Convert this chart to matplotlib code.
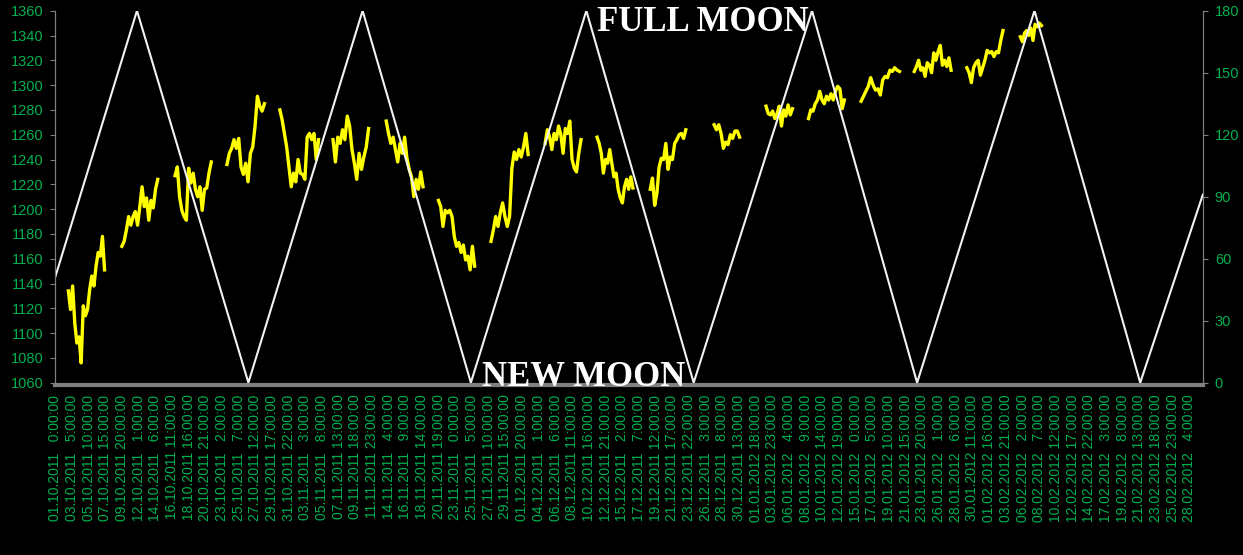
import numpy as np
import pandas as pd
import matplotlib
matplotlib.use('Agg')
import matplotlib.pyplot as plt

plt.rcParams['font.family'] = ['Liberation Sans', 'DejaVu Sans']

# x axis: one category per hour, counted from 01.10.2011 0:00
n_hours = 3648
label_step = 53
first_label = '2011-10-01 00:00'

# hourly S&P prices, one list per trading week (first hour, last hour, prices)
week_start = [42, 212, 381, 546, 714, 883, 1052, 1218, 1385, 1557,
              1722, 1891, 2094, 2259, 2394, 2561, 2730, 2897, 3067]
week_end = [157, 326, 496, 665, 837, 996, 1169, 1333, 1503, 1671,
            1836, 2004, 2175, 2343, 2508, 2683, 2847, 3012, 3134]
week_prices = [
    [1134, 1119, 1138, 1108, 1092, 1097, 1076, 1122, 1114, 1119, 1135, 1146, 1138, 1154, 1165, 1162, 1178, 1151],
    [1170, 1174, 1183, 1194, 1187, 1194, 1198, 1187, 1202, 1218, 1202, 1209, 1191, 1207, 1201, 1216, 1224],
    [1227, 1234, 1210, 1199, 1194, 1191, 1233, 1221, 1229, 1216, 1210, 1218, 1199, 1216, 1217, 1229, 1238],
    [1236, 1245, 1249, 1256, 1249, 1257, 1234, 1228, 1237, 1222, 1245, 1250, 1267, 1291, 1283, 1279, 1285],
    [1280, 1272, 1261, 1250, 1234, 1218, 1229, 1222, 1240, 1229, 1228, 1224, 1258, 1261, 1256, 1261, 1240, 1256],
    [1256, 1238, 1258, 1253, 1264, 1256, 1275, 1267, 1248, 1237, 1224, 1245, 1232, 1242, 1250, 1265],
    [1271, 1261, 1253, 1258, 1248, 1238, 1253, 1245, 1258, 1241, 1232, 1226, 1210, 1224, 1216, 1230, 1218],
    [1207, 1202, 1186, 1199, 1197, 1199, 1194, 1178, 1170, 1173, 1165, 1171, 1159, 1162, 1151, 1170, 1154],
    [1174, 1183, 1194, 1186, 1197, 1205, 1194, 1186, 1194, 1233, 1246, 1240, 1248, 1242, 1250, 1261, 1244],
    [1253, 1264, 1258, 1248, 1261, 1256, 1267, 1260, 1245, 1265, 1261, 1271, 1240, 1233, 1230, 1245, 1256],
    [1258, 1253, 1245, 1229, 1240, 1237, 1248, 1237, 1226, 1229, 1216, 1209, 1205, 1218, 1224, 1216, 1226, 1217],
    [1216, 1225, 1203, 1213, 1234, 1241, 1240, 1253, 1232, 1242, 1240, 1253, 1256, 1260, 1261, 1257, 1264],
    [1268, 1264, 1268, 1261, 1249, 1254, 1252, 1260, 1257, 1263, 1263, 1258],
    [1283, 1277, 1276, 1279, 1273, 1277, 1283, 1267, 1280, 1275, 1284, 1276, 1281],
    [1273, 1280, 1279, 1285, 1288, 1295, 1288, 1285, 1291, 1288, 1293, 1288, 1295, 1299, 1297, 1281, 1288],
    [1287, 1291, 1295, 1299, 1306, 1300, 1296, 1297, 1292, 1304, 1307, 1306, 1312, 1311, 1314, 1312, 1311],
    [1311, 1315, 1320, 1312, 1314, 1307, 1318, 1316, 1310, 1326, 1320, 1327, 1332, 1316, 1320, 1315, 1322, 1312],
    [1314, 1310, 1302, 1314, 1318, 1320, 1308, 1314, 1320, 1328, 1326, 1327, 1323, 1327, 1326, 1336, 1344],
    [1339, 1335, 1342, 1344, 1340, 1346, 1336, 1349, 1347, 1350, 1348],
]

# moon phase in degrees at the turning points (0 = new moon, 180 = full moon)
moon_hours = [0, 260, 614, 977, 1321, 1688, 2029, 2405, 2739, 3112, 3448, 3647]
moon_deg = [51, 180, 0, 180, 0, 180, 0, 180, 0, 180, 0, 91]

green = '#00B050'
grey = '#808080'

# weeks joined into one line, with a gap between weeks
px, py = [], []
for s, e, p in zip(week_start, week_end, week_prices):
    px.extend(np.linspace(s, e, len(p)))
    py.extend(p)
    px.append(np.nan)
    py.append(np.nan)

tick_times = pd.date_range(first_label, periods=(n_hours - 1) // label_step + 1,
                           freq=f'{label_step}h')
tick_labels = []
for t in tick_times:
    hh = str(t.hour) if t.hour > 9 else '  ' + str(t.hour)
    tick_labels.append(f'{t:%d.%m.%Y} {hh}:00:00')
tick_pos = np.arange(len(tick_times)) * label_step

fig = plt.figure(figsize=(12.43, 5.55), dpi=100, facecolor='black')
ax = fig.add_axes([55 / 1243, 1 - 382.7 / 555, 1148 / 1243, 372 / 555])
ax.set_facecolor('black')
ax2 = ax.twinx()

# spines first: moving a spine resets the tick labels
for a in (ax, ax2):
    a.spines['top'].set_visible(False)
    a.spines['bottom'].set_visible(False)
    for side in ('left', 'right'):
        a.spines[side].set_color(grey)
        a.spines[side].set_linewidth(0.8)
ax.spines['bottom'].set_visible(True)
ax.spines['bottom'].set_color(grey)
ax.spines['bottom'].set_linewidth(3)
ax.spines['bottom'].set_position(('outward', 1.5))

ax.plot(px, py, color='#FFFF00', lw=2.4)
ax2.plot(moon_hours, moon_deg, color='#F2F2F2', lw=1.5)

ax.set_xlim(-0.5, n_hours - 0.5)
ax.set_ylim(1060, 1360)
ax.set_yticks(np.arange(1060, 1361, 20))
ax2.set_ylim(0, 180)
ax2.set_yticks(np.arange(0, 181, 30))

ax.set_xticks(tick_pos)
ax.set_xticklabels(tick_labels, rotation=90, fontsize=10, color=green)
ax.tick_params(axis='x', length=0, pad=7)
ax.tick_params(axis='y', colors=grey, labelcolor=green, labelsize=10.5,
               length=3.5, width=0.8, pad=5)
ax2.tick_params(axis='y', colors=grey, labelcolor=green, labelsize=10.5,
                length=3.5, width=0.8, pad=5)

fig.text(597 / 1243, 1 - 31 / 555, 'FULL MOON', color='white', fontsize=25,
         fontweight='bold', family='Liberation Serif', va='baseline', ha='left')
fig.text(482 / 1243, 1 - 386 / 555, 'NEW MOON', color='white', fontsize=25,
         fontweight='bold', family='Liberation Serif', va='baseline', ha='left',
         zorder=5)

fig.savefig('out.png', dpi=100, facecolor='black')
